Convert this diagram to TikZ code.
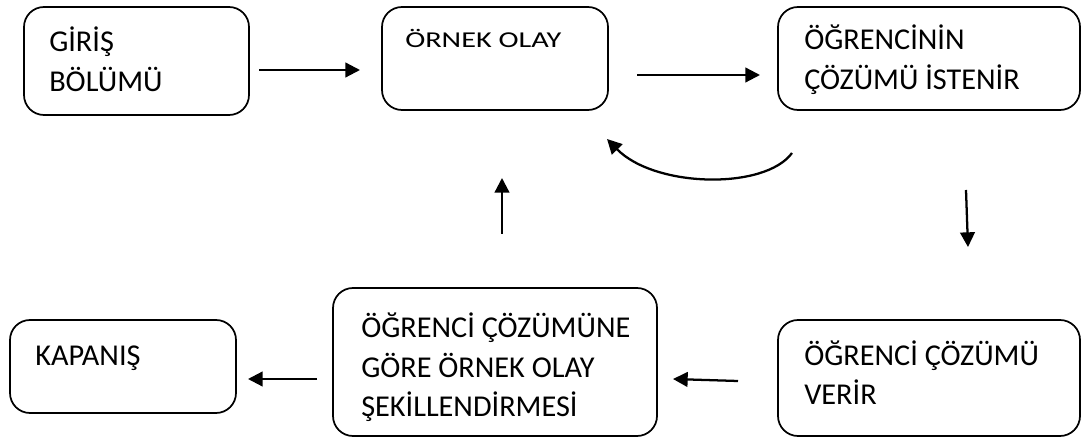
\documentclass[tikz,border=0pt]{standalone}
\usepackage{fontspec}
\usepackage{graphicx}
\setmainfont{Carlito}
\usetikzlibrary{arrows.meta}

% stacked lines whose baseline is that of the first line
\newcommand{\linesof}[1]{\vtop{\baselineskip=29.5pt\lineskiplimit=0pt #1}}

\begin{document}
\begin{tikzpicture}[x=0.75pt,y=-0.75pt,
  stagebox/.style={draw=black,line width=1.3pt,rounded corners=15pt,rectangle,inner sep=0pt},
  lbl/.style={anchor=base west,inner sep=0pt,font=\fontsize{22.7}{29.5}\selectfont},
  flow/.style={line width=1.7pt,-{Triangle[length=11pt,width=11pt]}}]
  \useasboundingbox (0,0) rectangle (1082,438);

  % stage boxes
  \node[stagebox,minimum width=168.75pt,minimum height=81pt]   (giris)   at (136.5,61)  {};
  \node[stagebox,minimum width=169.5pt,minimum height=77.25pt] (ornek)   at (495,58.5)  {};
  \node[stagebox,minimum width=226.5pt,minimum height=77.25pt] (istenir) at (929,58.5)  {};
  \node[stagebox,minimum width=169.5pt,minimum height=69.75pt] (kapanis) at (123,366.5) {};
  \node[stagebox,minimum width=243pt,minimum height=111pt]     (sekil)   at (495,362)   {};
  \node[stagebox,minimum width=226.5pt,minimum height=87pt]    (verir)   at (929,378)   {};

  % box texts, first baseline at the given point
  \node[lbl] (girist)   at (49,52)   {\linesof{\hbox{GİRİŞ}\hbox{BÖLÜMÜ}}};
  \node[lbl] (ornekt)   at (405,48)  {\scalebox{1}[0.75]{ÖRNEK OLAY}};
  \node[lbl] (istenirt) at (804,50)  {\linesof{\hbox{ÖĞRENCİNİN}\hbox{ÇÖZÜMÜ İSTENİR}}};
  \node[lbl] (kapanist) at (35,365)  {KAPANIŞ};
  \node[lbl] (sekilt)   at (361,338) {\linesof{\hbox{ÖĞRENCİ ÇÖZÜMÜNE}\hbox{GÖRE ÖRNEK OLAY}\hbox{ŞEKİLLENDİRMESİ}}};
  \node[lbl] (verirt)   at (804,365) {\linesof{\hbox{ÖĞRENCİ ÇÖZÜMÜ}\hbox{VERİR}}};

  % free arrow end points
  \coordinate (a1s) at (259,70);  \coordinate (a1e) at (360,70);
  \coordinate (a2s) at (637,75);  \coordinate (a2e) at (760,75);
  \coordinate (cvs) at (792,153); \coordinate (cve) at (607,139);
  \coordinate (dns) at (966,190); \coordinate (dne) at (968,247);
  \coordinate (ups) at (502,234); \coordinate (upe) at (502,178);
  \coordinate (l1s) at (738,381); \coordinate (l1e) at (673,379);
  \coordinate (l2s) at (317,379); \coordinate (l2e) at (248,379);

  % connectors
  \draw[flow] (a1s) -- (a1e);
  \draw[flow] (a2s) -- (a2e);
  \draw[flow] (cvs) .. controls (765,190) and (655,188) .. (cve);
  \draw[flow] (dns) -- (dne);
  \draw[flow] (ups) -- (upe);
  \draw[flow] (l1s) -- (l1e);
  \draw[flow] (l2s) -- (l2e);
\end{tikzpicture}
\end{document}
